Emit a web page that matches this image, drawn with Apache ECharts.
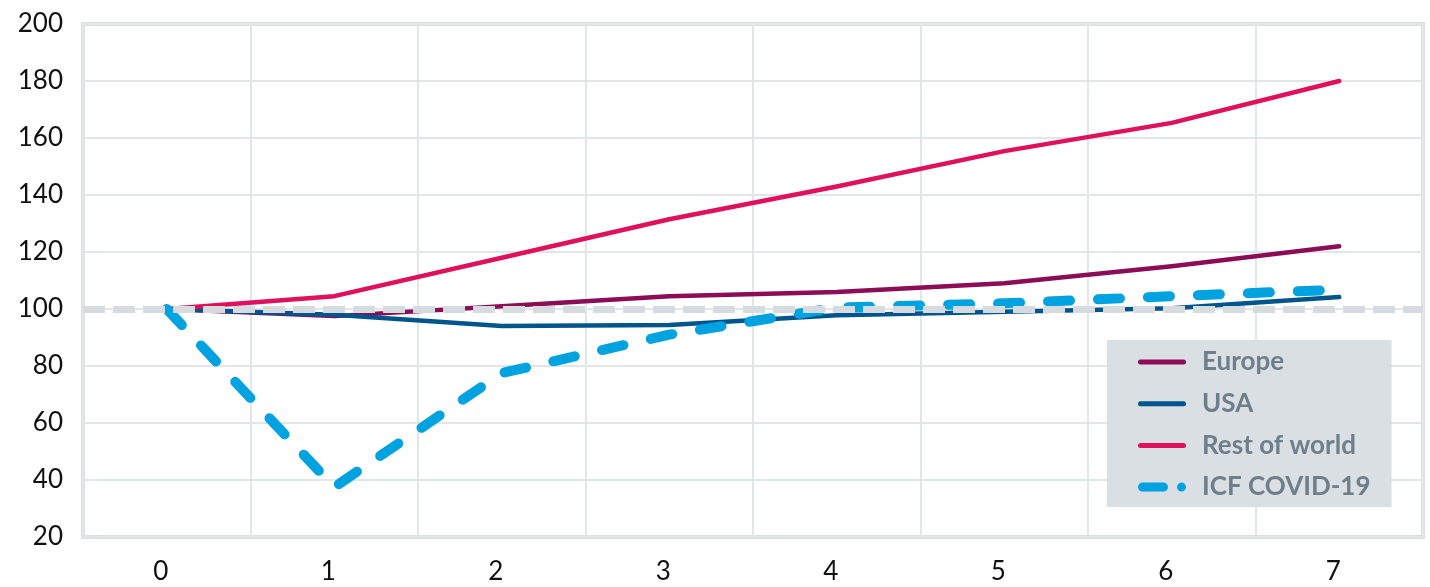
<!DOCTYPE html>
<html>
<head>
<meta charset="utf-8">
<script src="https://cdn.jsdelivr.net/npm/echarts@6/dist/echarts.min.js"></script>
<style>html,body{margin:0;padding:0;background:#fff;}#c{width:1430px;height:587px;}</style>
</head>
<body>
<div id="c"></div>
<script>
const categories = ['0', '1', '2', '3', '4', '5', '6', '7'];
const europe = [100, 97.5, 101, 104.5, 106, 109, 115, 122];
const usa = [100, 98, 94, 94.4, 97.8, 99, 100.3, 104.2];
const restOfWorld = [100, 104.5, 118, 131.5, 143, 155.4, 165.3, 180];
const icfCovid = [100, 37.5, 77.5, 91, 100.5, 102, 104.5, 106.8];
const baseline = 100;

const FONT = 'Lato, "Noto Sans", sans-serif';
const lineIcon = 'path://M2.5,0 H45.5 A2.5,2.5 0 0 1 45.5,5 H2.5 A2.5,2.5 0 0 1 2.5,0 Z';
const dashIcon = 'path://M4.5,0 H25.5 A4.5,4.5 0 0 1 25.5,9 H4.5 A4.5,4.5 0 0 1 4.5,0 Z M43.5,0 A4.5,4.5 0 1 1 43.5,9 A4.5,4.5 0 1 1 43.5,0 Z';

const chart = echarts.init(document.getElementById('c'), null, {renderer: 'canvas'});
chart.setOption({
  animation: false,
  grid: {left: 83, right: 7, top: 24, bottom: 50, show: true, borderColor: '#d9dfe3', borderWidth: 4, backgroundColor: 'transparent'},
  xAxis: {
    type: 'category', data: categories, boundaryGap: true,
    axisLine: {show: false}, axisTick: {show: false},
    axisLabel: {color: '#111', fontSize: 26, fontFamily: FONT, margin: 22, padding: [0, 12, 0, 0]},
    splitLine: {show: true, lineStyle: {color: '#e1e6e9', width: 2}}
  },
  yAxis: {
    type: 'value', min: 20, max: 200, interval: 20,
    axisLine: {show: false}, axisTick: {show: false},
    axisLabel: {color: '#111', fontSize: 26, fontFamily: FONT, margin: 20},
    splitLine: {show: true, lineStyle: {color: '#e1e6e9', width: 2}}
  },
  legend: {
    orient: 'vertical', left: 1107, top: 340,
    backgroundColor: '#d9dfe3', borderRadius: 0,
    padding: [9, 21, 7, 31],
    itemWidth: 48, itemHeight: 10, itemGap: 15.7, itemTextGap: 16,
    textStyle: {color: '#6e7e8a', fontSize: 26, fontFamily: FONT, fontWeight: 'bold', lineHeight: 26, padding: [0, 0, 0, 11]},
    data: [
      {name: 'Europe', icon: lineIcon},
      {name: 'USA', icon: lineIcon},
      {name: 'Rest of world', icon: lineIcon},
      {name: 'ICF COVID-19', icon: dashIcon}
    ]
  },
  series: [
    {name: 'Europe', type: 'line', data: europe, symbol: 'none', color: '#8c0c57', z: 2,
     lineStyle: {width: 4.5, color: '#8c0c57', cap: 'round', join: 'round'}},
    {name: 'USA', type: 'line', data: usa, symbol: 'none', color: '#00558c', z: 2,
     lineStyle: {width: 4.5, color: '#00558c', cap: 'round', join: 'round'}},
    {name: 'Rest of world', type: 'line', data: restOfWorld, symbol: 'none', color: '#e1105d', z: 2,
     lineStyle: {width: 4.5, color: '#e1105d', cap: 'round', join: 'round'},
     markLine: {silent: true, symbol: ['none', 'none'], label: {show: false},
       lineStyle: {color: '#d5dbdf', width: 7, type: [22, 8], cap: 'butt'},
       data: [{yAxis: baseline}]}},
    {name: 'ICF COVID-19', type: 'line', data: icfCovid, symbol: 'none', color: '#00a3df', z: 3,
     lineStyle: {width: 10, color: '#00a3df', type: [22, 28], cap: 'round', join: 'round'}}
  ]
});
</script>
</body>
</html>
